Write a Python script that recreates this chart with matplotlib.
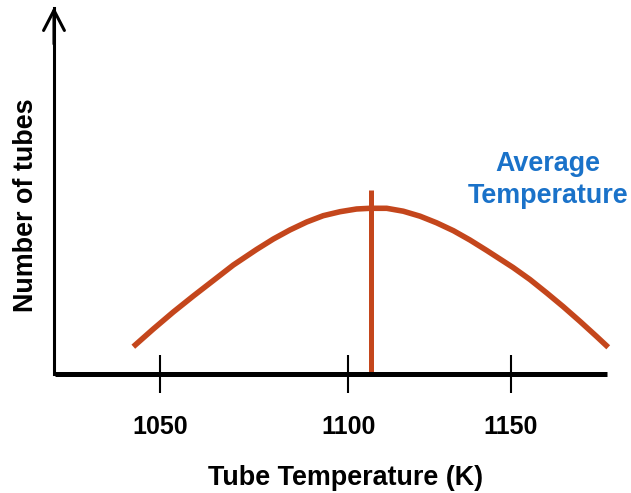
import matplotlib
matplotlib.use("Agg")
import matplotlib.pyplot as plt

# ---- data ----
curve_temp = [1042.4, 1048.1, 1053.8, 1059.5, 1065.2, 1070.9, 1077.5, 1082.3,
              1087.0, 1091.8, 1096.5, 1101.3, 1106.0, 1109.8, 1114.6, 1119.3,
              1124.1, 1128.8, 1133.6, 1138.3, 1143.1, 1150.6, 1155.4, 1160.2,
              1164.9, 1169.7, 1174.4, 1177.7]
curve_count = [27.3, 45.0, 62.0, 78.0, 93.5, 109.0, 124.5, 135.0,
               144.0, 152.0, 158.3, 162.3, 165.0, 165.7, 165.7, 162.8,
               157.8, 151.2, 143.3, 134.0, 123.5, 106.5, 94.5, 81.0,
               67.3, 52.5, 37.5, 26.7]
avg_temp = 1110.1
avg_line_top = 184
tick_positions = [1050, 1103.6, 1150]
tick_labels = ["1050", "1100", "1150"]

RED = "#C4461C"
BLUE = "#1A72C9"
plt.rcParams["font.family"] = ["Liberation Sans", "DejaVu Sans"]

fig = plt.figure(figsize=(6.31, 4.93), dpi=100)
ax = fig.add_axes([0, 0, 1, 1])
ax.set_xlim(1004.42, 1184.19)
ax.set_ylim(-119, 374)
ax.patch.set_alpha(0)

# axes spines
for s in ["top", "right"]:
    ax.spines[s].set_visible(False)
ax.spines["left"].set_position(("data", 1019.8))
ax.spines["left"].set_bounds(0, 366)
ax.spines["left"].set_linewidth(2.2)
ax.spines["bottom"].set_position(("data", 0))
ax.spines["bottom"].set_bounds(1020.1, 1177.4)
ax.spines["bottom"].set_linewidth(3.6)
ax.spines["bottom"].set_capstyle("butt")

# arrow head on y axis
ax.annotate("", xy=(1019.8, 367), xytext=(1019.8, 330),
            arrowprops=dict(arrowstyle="->,head_length=1.45,head_width=0.75",
                            lw=2.2, color="black", shrinkA=0, shrinkB=0))

ax.set_yticks([])
ax.set_xticks(tick_positions, tick_labels)
ax.tick_params(axis="x", direction="inout", length=27, width=1.5,
               pad=16, labelsize=18)
for lab in ax.get_xticklabels():
    lab.set_fontweight("bold")

# curve and average line
ax.plot(curve_temp, curve_count, color=RED, lw=4, solid_capstyle="butt",
        solid_joinstyle="round")
ax.plot([avg_temp, avg_temp], [0, avg_line_top], color=RED, lw=3.6,
        solid_capstyle="butt")

ax.text(1160.5, 194, "Average\nTemperature", color=BLUE, fontsize=19.4,
        fontweight="bold", ha="center", va="center", linespacing=1.3)

ax.text(346 / 631, 1 - 478 / 493, "Tube Temperature (K)", transform=ax.transAxes,
        fontsize=19.4, fontweight="bold", ha="center", va="center")
ax.text(26 / 631, 1 - 205 / 493, "Number of tubes", transform=ax.transAxes,
        fontsize=19.4, fontweight="bold", ha="center", va="center", rotation=90)

fig.savefig("out.png", dpi=100)
